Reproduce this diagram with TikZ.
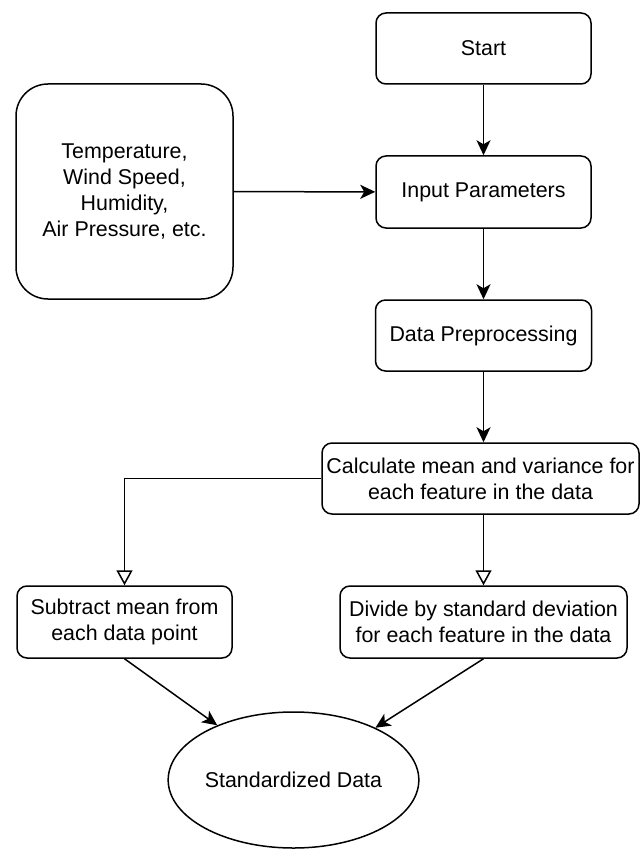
\documentclass[tikz,border=0pt]{standalone}
\usepackage{fontspec}
\setmainfont{Liberation Sans}
\usetikzlibrary{shapes.geometric,arrows.meta}
\begin{document}
\begin{tikzpicture}[x=1pt,y=-1pt,
  every node/.style={font=\fontsize{21.4}{26}\selectfont, align=center, inner sep=0pt},
  box/.style={draw, line width=1.5pt, rounded corners=10pt},
  bigbox/.style={draw, line width=1.5pt, rounded corners=32pt},
  oval/.style={draw, line width=1.5pt, ellipse},
  conn/.style={line width=1.5pt, -{Stealth[length=15pt,width=14pt,inset=4pt]}},
  hollow/.style={line width=1.5pt, -{Triangle[open,length=15pt,width=16pt,line width=1.5pt]}}
]
\useasboundingbox (0,0) rectangle (640,850);
\node[box, minimum width=215pt, minimum height=71pt] (start) at (483.5,48.5) {Start};
\node[box, minimum width=215pt, minimum height=72pt] (input) at (483.5,192) {Input Parameters};
\node[bigbox, minimum width=217pt, minimum height=215pt] (params) at (124.5,191.5) {Temperature,\\Wind Speed,\\Humidity,\\Air Pressure, etc.};
\node[box, minimum width=216pt, minimum height=71pt] (prep) at (483.5,335.5) {Data Preprocessing};
\node[box, minimum width=317pt, minimum height=71pt] (calc) at (480.5,478.5) {Calculate mean and variance for\\each feature in the data};
\node[box, minimum width=215pt, minimum height=72pt] (sub) at (124.5,622) {Subtract mean from\\each data point};
\node[box, minimum width=287pt, minimum height=72pt] (div) at (483.5,622) {Divide by standard deviation\\for each feature in the data};
\node[oval, minimum width=215pt, minimum height=136pt] (sd) at (293.5,780) {Standardized Data};

\draw[conn] (start) -- (input);
\draw[conn] (params) -- (input);
\draw[conn] (input) -- (prep);
\draw[conn] (prep.south) -- (prep.south |- calc.north);
\draw[hollow] (calc.west) -| (sub.north);
\draw[hollow] (calc.south -| div.north) -- (div.north);
\draw[conn] (sub.south) -- (sd);
\draw[conn] (div.south) -- (sd);
\end{tikzpicture}
\end{document}
